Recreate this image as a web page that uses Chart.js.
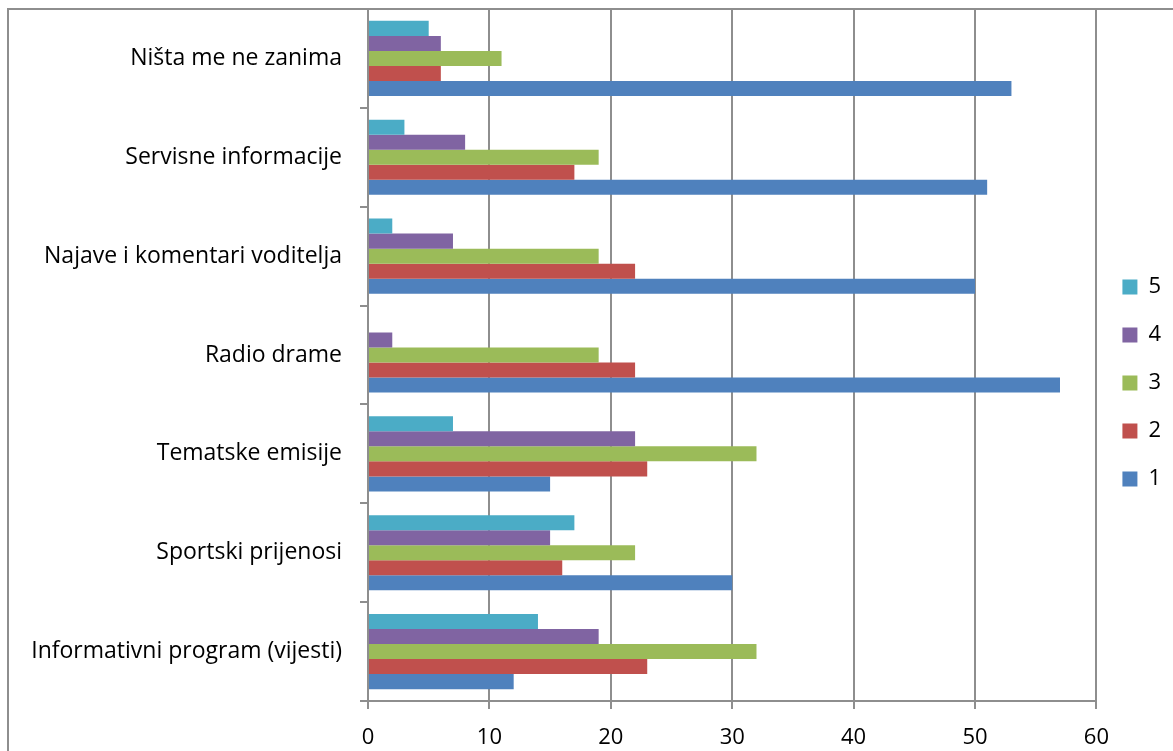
<!DOCTYPE html>
<html>
<head>
<meta charset="utf-8">
<script src="https://cdn.jsdelivr.net/npm/chart.js@4.4.1/dist/chart.umd.min.js"></script>
<style>
    body { margin: 0; background: #fff; }
    #frame { position: absolute; left: 7px; top: 8px; width: 1300px; height: 900px;
             border-left: 2px solid #8e8e8e; border-top: 2px solid #8e8e8e; }
    #wrap { position: absolute; left: 0; top: 0; width: 1173px; height: 751px; }
</style>
</head>
<body>
<div id="frame"></div>
<div id="wrap"><canvas id="chart"></canvas></div>
<script>
const categories = ['Ništa me ne zanima', 'Servisne informacije', 'Najave i komentari voditelja',
    'Radio drame', 'Tematske emisije', 'Sportski prijenosi', 'Informativni program (vijesti)'];
const ocjena5 = [5, 3, 2, 0, 7, 17, 14];
const ocjena4 = [6, 8, 7, 2, 22, 15, 19];
const ocjena3 = [11, 19, 19, 19, 32, 22, 32];
const ocjena2 = [6, 17, 22, 22, 23, 16, 23];
const ocjena1 = [53, 51, 50, 57, 15, 30, 12];
const xTicks = [0, 10, 20, 30, 40, 50, 60];

const font = "'Open Sans', 'Liberation Sans', sans-serif";

let chart = new Chart(
    document.getElementById('chart'),
    {
        type: 'bar',
        data: {
            labels: categories,
            datasets: [
                { label: '5', data: ocjena5, backgroundColor: '#4bacc6' },
                { label: '4', data: ocjena4, backgroundColor: '#8064a2' },
                { label: '3', data: ocjena3, backgroundColor: '#9bbb59' },
                { label: '2', data: ocjena2, backgroundColor: '#c0504d' },
                { label: '1', data: ocjena1, backgroundColor: '#4f81bd' }
            ]
        },
        options: {
            indexAxis: 'y',
            responsive: true,
            maintainAspectRatio: false,
            animation: false,
            categoryPercentage: 0.76,
            barPercentage: 1,
            layout: { padding: { top: 9, left: 8, right: 2, bottom: 0 } },
            plugins: {
                tooltip: { enabled: false },
                legend: {
                    position: 'right',
                    // empty title only nudges the legend column down a little
                    title: { display: true, text: '', font: { size: 5 }, padding: 0 },
                    labels: {
                        boxWidth: 15,
                        boxHeight: 15,
                        padding: 26,
                        color: '#000',
                        font: { family: font, size: 22 }
                    }
                }
            },
            scales: {
                x: {
                    min: 0,
                    max: 60,
                    afterBuildTicks: s => { s.ticks = xTicks.map(v => ({ value: v })); },
                    afterFit: s => { s.height = 50; },
                    grid: { color: '#8e8e8e', lineWidth: 2, tickLength: 8 },
                    border: { color: '#8e8e8e', width: 2 },
                    ticks: { color: '#000', padding: 16, font: { family: font, size: 22 } }
                },
                y: {
                    afterFit: s => { s.width = 360; s.paddingTop = 0; s.paddingBottom = 0; },
                    grid: { offset: true, drawOnChartArea: false, color: '#8e8e8e', lineWidth: 2, tickLength: 8 },
                    border: { color: '#8e8e8e', width: 2 },
                    ticks: { color: '#000', padding: 18, font: { family: font, size: 23 } }
                }
            }
        }
    }
);
</script>
</body>
</html>
